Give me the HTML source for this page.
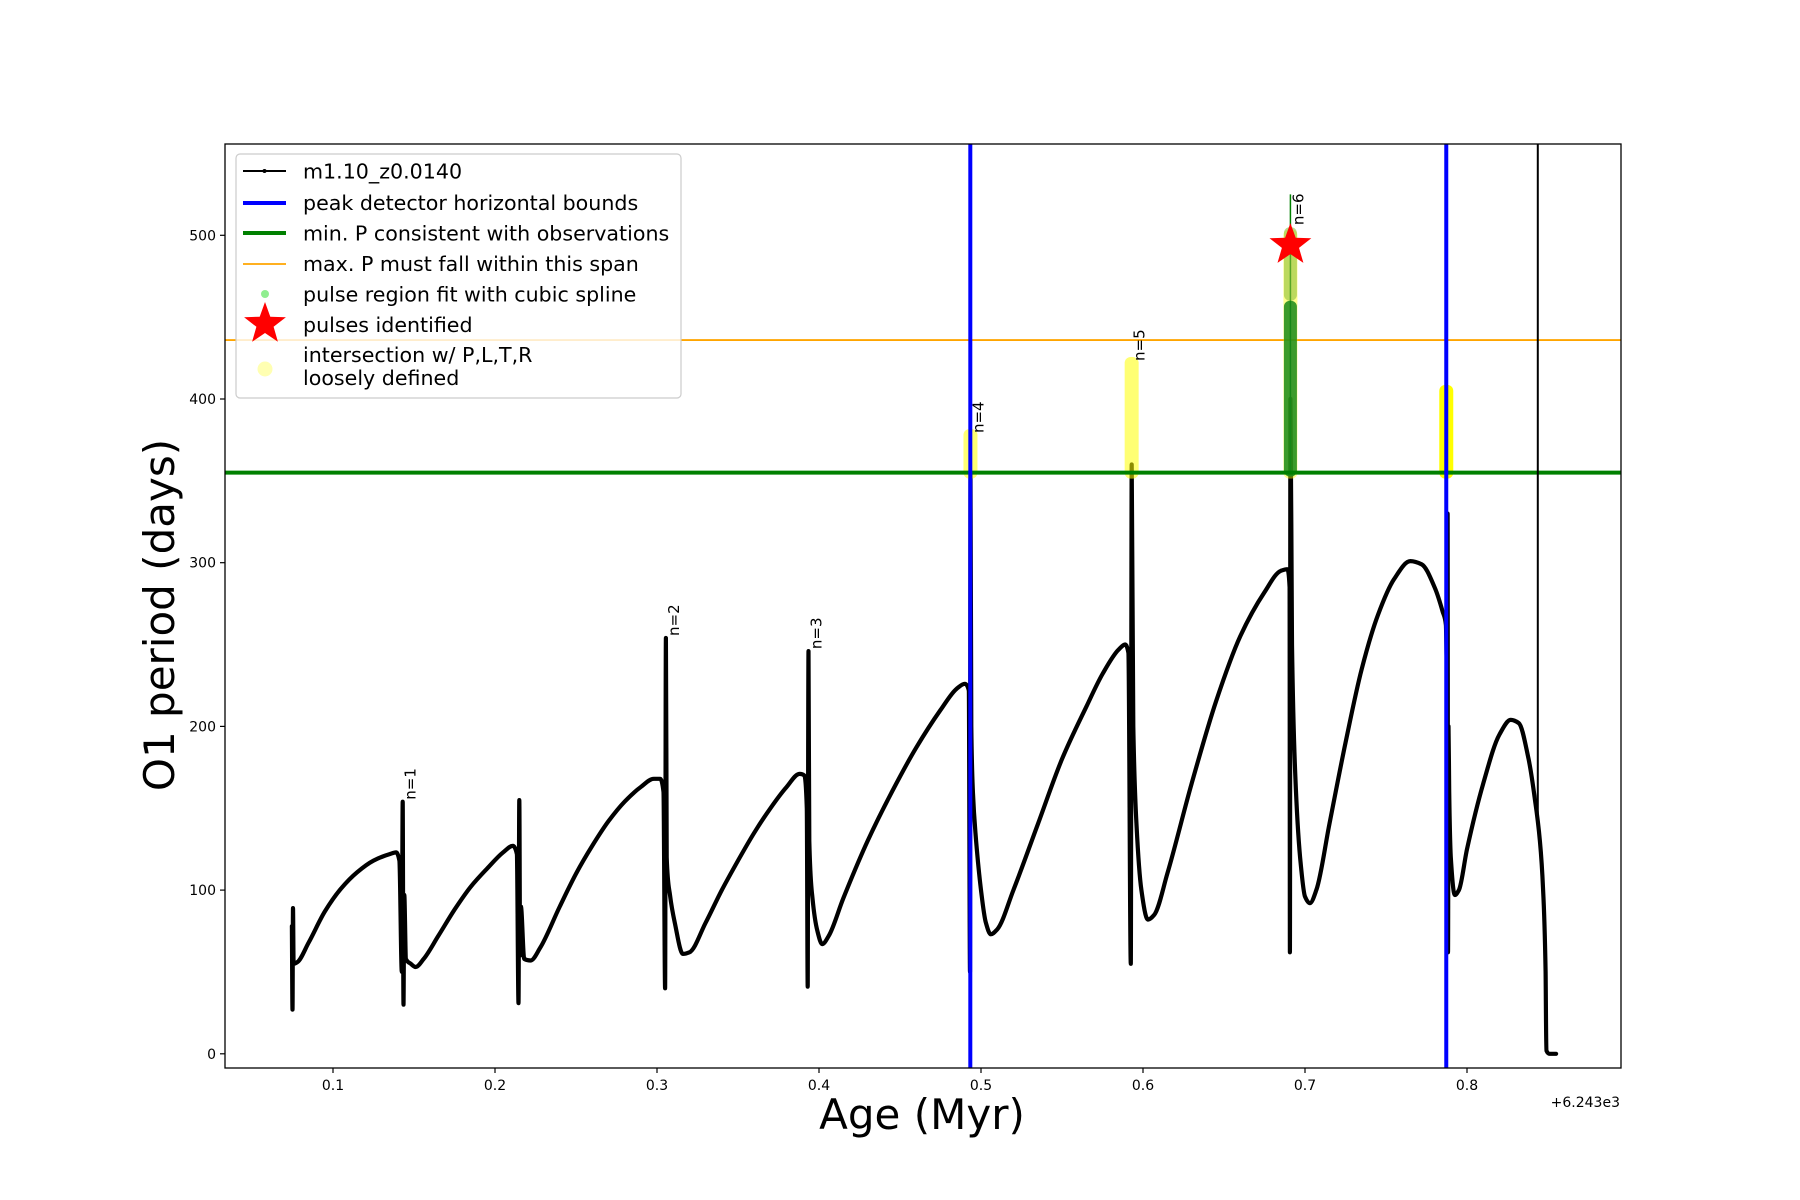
<!DOCTYPE html>
<html><head><meta charset="utf-8"><style>
html,body{margin:0;padding:0;background:#fff;}
svg{display:block;font-family:"DejaVu Sans","Liberation Sans",sans-serif;}
</style></head><body>
<svg id="chart" width="1800" height="1200" viewBox="0 0 1800 1200">
<rect x="0" y="0" width="1800" height="1200" fill="#fff"/>
<g id="plot"></g>
<g id="axes"></g>
<g id="legend">
  <rect x="236" y="154" width="445" height="244" rx="4" fill="#fff" fill-opacity="0.8" stroke="#cccccc" stroke-width="1.2"/>
  <g>
    <line x1="243" y1="171" x2="286" y2="171" stroke="#000" stroke-width="2"/><circle cx="264.5" cy="171" r="2" fill="#000"/>
    <text x="303" y="178.5" font-size="20.6">m1.10_z0.0140</text></g>
  <g>
    <line x1="243" y1="203" x2="286" y2="203" stroke="#0000ff" stroke-width="4"/>
    <text x="303" y="210" font-size="20.6">peak detector horizontal bounds</text></g>
  <g>
    <line x1="243" y1="233" x2="286" y2="233" stroke="#008000" stroke-width="4"/>
    <text x="303" y="240.5" font-size="20.6">min. P consistent with observations</text></g>
  <g>
    <line x1="243" y1="264" x2="286" y2="264" stroke="#ffa500" stroke-width="1.8"/>
    <text x="303" y="271" font-size="20.6">max. P must fall within this span</text></g>
  <g>
    <circle cx="265" cy="294" r="4" fill="#90ee90"/>
    <text x="303" y="301.5" font-size="20.6">pulse region fit with cubic spline</text></g>
  <g>
    <polygon id="legstar" fill="#ff0000"/>
    <text x="303" y="332" font-size="20.6">pulses identified</text></g>
  <g>
    <circle cx="265" cy="369" r="7.5" fill="#ffff00" fill-opacity="0.3"/>
    <text x="303" y="362" font-size="20.6">intersection w/ P,L,T,R</text>
    <text x="303" y="385" font-size="20.6">loosely defined</text></g>
</g>
</svg>
<script>
// ---- data ----
const ages = [0.0746,0.0750,0.0753,0.0757,0.078,0.085,0.095,0.105,0.115,0.125,0.135,0.139,0.141,
0.1425,0.143,0.1435,0.144,0.145,0.148,0.151,0.156,0.165,0.175,0.185,0.195,0.205,0.211,0.2135,
0.2145,0.215,0.2155,0.216,0.218,0.222,0.228,0.24,0.25,0.26,0.27,0.28,0.29,0.298,0.302,0.304,
0.305,0.3055,0.306,0.308,0.311,0.316,0.320,0.33,0.34,0.35,0.36,0.37,0.38,0.388,0.391,0.3925,
0.393,0.3935,0.394,0.396,0.399,0.402,0.406,0.415,0.43,0.445,0.46,0.475,0.485,0.490,0.4925,
0.4932,0.4935,0.494,0.495,0.497,0.500,0.503,0.506,0.510,0.52,0.535,0.55,0.565,0.575,0.585,0.589,0.591,
0.5925,0.593,0.594,0.596,0.599,0.603,0.607,0.615,0.63,0.645,0.66,0.675,0.685,0.689,0.6905,
0.6907,0.691,0.692,0.694,0.697,0.700,0.703,0.707,0.715,0.725,0.735,0.745,0.755,0.765,0.772,0.78,0.785,0.787,
0.7875,0.7880,0.7883,0.7886,0.789,0.790,0.7925,0.795,0.80,0.81,0.82,0.827,0.832,0.838,0.842,0.845,0.847,0.8485,0.849,0.851,0.855];
const periods = [78,27,89,55,56,68,87,101,111,118,122,123,118,
50,154,30,97,58,55,53,58,72,88,102,113,123,127,122,
31,155,60,90,58,57,65,90,110,127,142,154,163,168,168,160,
40,254,120,97,80,61,62,80,100,118,135,150,163,171,170,150,
41,246,130,95,75,67,72,95,130,160,187,210,223,226,222,
50,355,200,160,130,100,80,73,76,100,140,180,212,232,247,250,245,
55,360,200,140,100,82,85,110,165,215,255,282,295,296,285,
62,400,250,170,120,96,92,100,140,190,235,268,290,301,299,285,270,262,
240,330,62,200,160,120,97,100,125,165,195,204,202,180,155,130,100,50,2,0,0];
const xTicks = [0.1,0.2,0.3,0.4,0.5,0.6,0.7,0.8];
const xTickLabels = ["0.1","0.2","0.3","0.4","0.5","0.6","0.7","0.8"];
const yTicks = [0,100,200,300,400,500];
const yTickLabels = ["0","100","200","300","400","500"];
const boundAges = [0.4934,0.7872];
const endAge = [0.8437];
const minP = [355];
const maxP = [436];
const pulseAges = [0.1430,0.3055,0.3935,0.4935,0.5930,0.6910];
const pulseLabels = ["n=1","n=2","n=3","n=4","n=5","n=6"];
const pulsePeaks = [154,254,246,378,422,505];
const yellowAges = [0.4935,0.5930,0.6910,0.7872];
const yellowTops = [378,422,500,405];
const yellowAlpha = [0.55,0.55,0.45,1];
const splineAge = [0.6910];
const splineTop = [460];
const spikeTop = [525];
const starAge = [0.6910];
const starP = [494];

// ---- axes ----
const L=225,R=1621,T=144,B=1068;
const x = v => 333 + (v-0.1)*1620;
const y = p => 1053.8 - p*1.637;
const NS="http://www.w3.org/2000/svg";
const plot=document.getElementById('plot'), axes=document.getElementById('axes');
function mk(tag, attrs, parent){const e=document.createElementNS(NS,tag);for(const k in attrs)e.setAttribute(k,attrs[k]);parent.appendChild(e);return e;}
function star(cx,cy,ro,ri){let pts=[];for(let i=0;i<10;i++){const a=-Math.PI/2+i*Math.PI/5;const r=i%2?ri:ro;pts.push((cx+r*Math.cos(a)).toFixed(1)+","+(cy+r*Math.sin(a)).toFixed(1));}return pts.join(" ");}
// monotone cubic path (rendering only)
function monoPath(X,Y){
  const n=X.length, dx=[], s=[], m=new Array(n);
  for(let i=0;i<n-1;i++){dx.push(X[i+1]-X[i]); s.push((Y[i+1]-Y[i])/(dx[i]||1e-6));}
  m[0]=s[0]; m[n-1]=s[n-2];
  for(let i=1;i<n-1;i++){ if(s[i-1]*s[i]<=0) m[i]=0; else { const w1=2*dx[i]+dx[i-1], w2=dx[i]+2*dx[i-1]; m[i]=(w1+w2)/(w1/s[i-1]+w2/s[i]); } }
  let d='M'+X[0].toFixed(1)+','+Y[0].toFixed(1);
  for(let i=0;i<n-1;i++){const h=dx[i]/3;
    d+='C'+(X[i]+h).toFixed(1)+','+(Y[i]+m[i]*h).toFixed(1)+' '+(X[i+1]-h).toFixed(1)+','+(Y[i+1]-m[i+1]*h).toFixed(1)+' '+X[i+1].toFixed(1)+','+Y[i+1].toFixed(1);}
  return d;
}

const cp=mk('clipPath',{id:'clip'},document.getElementById('chart'));
mk('rect',{x:L,y:T,width:R-L,height:B-T},cp);
plot.setAttribute('clip-path','url(#clip)');

let e=mk('line',{x1:L,x2:R,y1:y(maxP[0]),y2:y(maxP[0]),stroke:'#ffa500','stroke-width':1.8},plot);


// curve
const PX=ages.map(x), PY=periods.map(y);
e=mk('path',{d:monoPath(PX,PY),fill:'none',stroke:'#000','stroke-width':4.2,'stroke-linejoin':'round','stroke-linecap':'round'},plot);


// yellow bars
yellowAges.forEach((a,i)=>{
  const r=mk('rect',{x:x(a)-7,y:y(yellowTops[i])-6,width:14,height:y(minP[0])-y(yellowTops[i])+12,rx:6,fill:'#ffff00','fill-opacity':yellowAlpha[i]},plot);
  
  
});
e=mk('line',{x1:x(splineAge[0]),x2:x(splineAge[0]),y1:y(minP[0]),y2:y(spikeTop[0]),stroke:'#008000','stroke-width':1.5},plot);


e=mk('rect',{x:x(splineAge[0])-6.5,y:y(splineTop[0]),width:13,height:y(minP[0])-y(splineTop[0])+4,rx:6,fill:'#1a8a1a','fill-opacity':0.85},plot);


e=mk('rect',{x:x(splineAge[0])-6.5,y:y(505),width:13,height:y(splineTop[0])-y(505),rx:6,fill:'#8fbf3f','fill-opacity':0.6},plot);


e=mk('line',{x1:L,x2:R,y1:y(minP[0]),y2:y(minP[0]),stroke:'#008000','stroke-width':4},plot);


boundAges.forEach(a=>{
  const l=mk('line',{x1:x(a),x2:x(a),y1:T,y2:B,stroke:'#0000ff','stroke-width':4},plot);
  
  
});
e=mk('line',{x1:x(endAge[0]),x2:x(endAge[0]),y1:T,y2:y(140),stroke:'#000','stroke-width':2},plot);


e=mk('polygon',{points:star(x(starAge[0]),y(starP[0]),22,9),fill:'#ff0000'},plot);


pulseAges.forEach((a,i)=>{
  const tx=x(a)+13, ty=y(pulsePeaks[i])-2;
  const t=mk('text',{x:tx,y:ty,'font-size':15,transform:`rotate(-90 ${tx} ${ty})`},plot);
  t.textContent=pulseLabels[i];
  
  
});
e=mk('rect',{x:L,y:T,width:R-L,height:B-T,fill:'none',stroke:'#000','stroke-width':1.3},axes);


xTicks.forEach((v,i)=>{
  mk('line',{x1:x(v),x2:x(v),y1:B,y2:B+5,stroke:'#000','stroke-width':1.2},axes);
  const t=mk('text',{x:x(v),y:B+22,'font-size':14,'text-anchor':'middle'},axes);
  t.textContent=xTickLabels[i];
  
  
});
yTicks.forEach((v,i)=>{
  mk('line',{x1:L-5,x2:L,y1:y(v),y2:y(v),stroke:'#000','stroke-width':1.2},axes);
  const t=mk('text',{x:L-9,y:y(v)+5,'font-size':14,'text-anchor':'end'},axes);
  t.textContent=yTickLabels[i];
  
  
});
e=mk('text',{x:R-1,y:1107,'font-size':14,'text-anchor':'end'},axes);
e.textContent='+6.243e3';


e=mk('text',{x:922,y:1129,'font-size':42,'text-anchor':'middle'},axes);
e.textContent='Age (Myr)';


e=mk('text',{x:174,y:615,'font-size':42,'text-anchor':'middle',transform:'rotate(-90 174 615)'},axes);
e.textContent='O1 period (days)';


document.getElementById('legstar').setAttribute('points',star(265,324,22,9));
</script>
</body></html>
